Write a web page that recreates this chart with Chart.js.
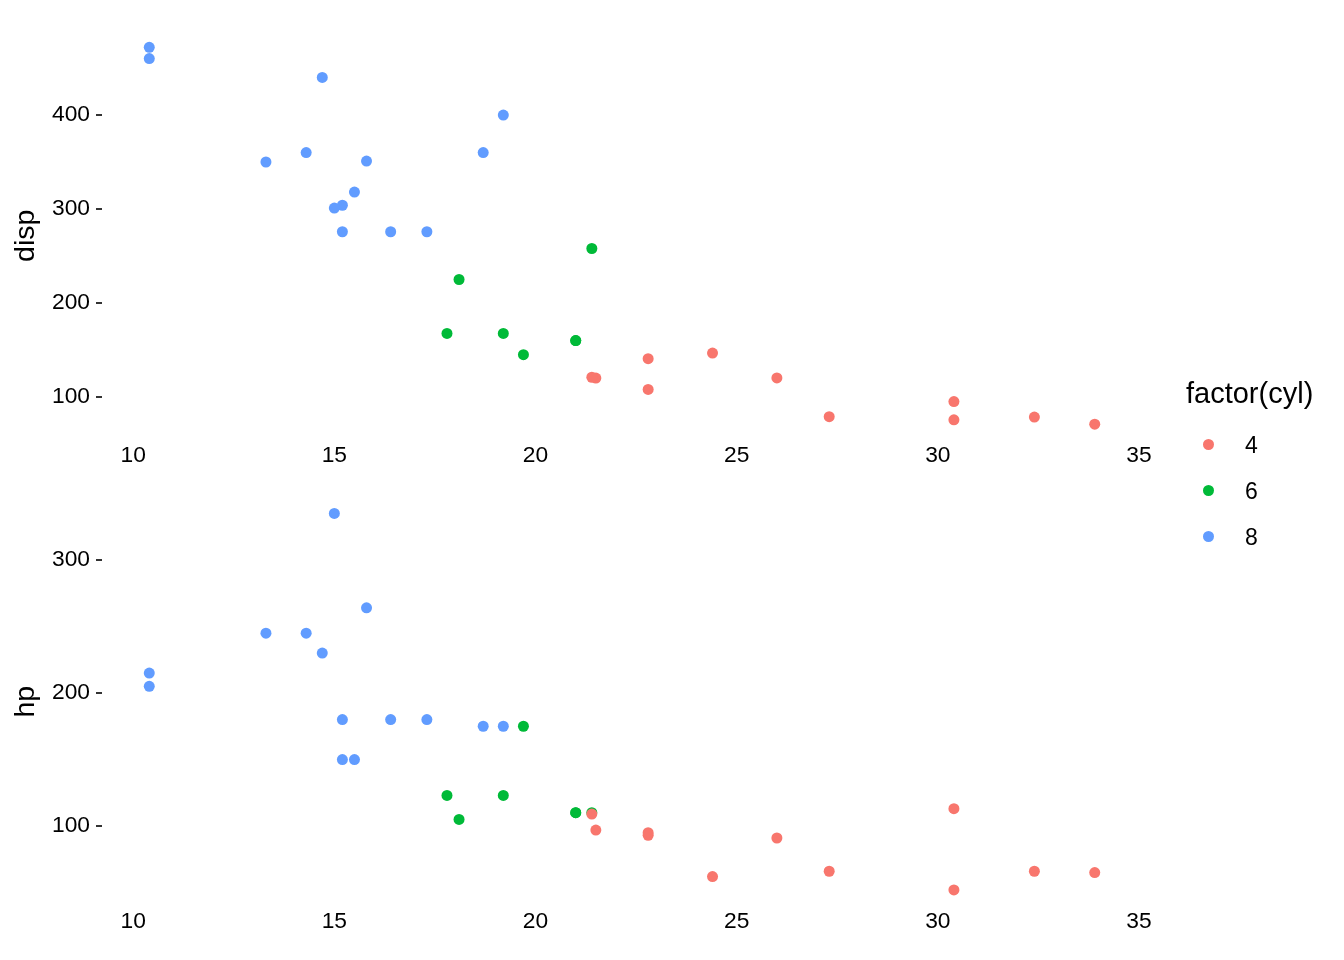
<!DOCTYPE html>
<html><head><meta charset="utf-8">
<script src="https://cdn.jsdelivr.net/npm/chart.js@4/dist/chart.umd.min.js"></script>
<style>
html,body{margin:0;padding:0;background:#fff;}
#wrap{position:relative;width:1344px;height:960px;font-family:"Liberation Sans",Arial,sans-serif;}
canvas{position:absolute;left:0;}
.lg{position:absolute;color:#000;white-space:nowrap;line-height:1;}
.dot{position:absolute;width:11px;height:11px;border-radius:50%;}
</style></head>
<body><div id="wrap">
<canvas id="c1" width="1344" height="480" style="top:0"></canvas>
<canvas id="c2" width="1344" height="480" style="top:480px"></canvas>
<div class="lg" style="left:1186px;top:379px;font-size:29px;">factor(cyl)</div>
<div class="dot" style="left:1203px;top:439px;background:#F8766D"></div>
<div class="lg" style="left:1245px;top:434px;font-size:23px;">4</div>
<div class="dot" style="left:1203px;top:485px;background:#00BA38"></div>
<div class="lg" style="left:1245px;top:480px;font-size:23px;">6</div>
<div class="dot" style="left:1203px;top:531px;background:#619CFF"></div>
<div class="lg" style="left:1245px;top:526px;font-size:23px;">8</div>
</div>
<script>
const mpg  = [21.0,21.0,22.8,21.4,18.7,18.1,14.3,24.4,22.8,19.2,17.8,16.4,17.3,15.2,10.4,10.4,14.7,32.4,30.4,33.9,21.5,15.5,15.2,13.3,19.2,27.3,26.0,30.4,15.8,19.7,15.0,21.4];
const cyl  = [6,6,4,6,8,6,8,4,4,6,6,8,8,8,8,8,8,4,4,4,4,8,8,8,8,4,4,4,8,6,8,4];
const disp = [160,160,108,258,360,225,360,146.7,140.8,167.6,167.6,275.8,275.8,275.8,472,460,440,78.7,75.7,71.1,120.1,318,304,350,400,79,120.3,95.1,351,145,301,121];
const hp   = [110,110,93,110,175,105,245,62,95,123,123,180,180,180,205,215,230,66,52,65,97,150,150,245,175,66,91,113,264,175,335,109];
const cylLevels = [4,6,8];
const cylColors = ['#F8766D','#00BA38','#619CFF'];
const xTicks = [10,15,20,25,30,35];
const dispTicks = [100,200,300,400];
const hpTicks = [100,200,300];

const FONT = '"Liberation Sans", Arial, sans-serif';

function expand(arr){const mn=Math.min(...arr),mx=Math.max(...arr),d=(mx-mn)*0.05;return [mn-d,mx+d];}

function makeChart(id, yvals, ylabel, yTicks, topPad, xAxisH){
  const [xmin,xmax]=expand(mpg);
  const [ymin,ymax]=expand(yvals);
  const datasets = cylLevels.map((c,k)=>({
    label:String(c),
    data: mpg.map((m,i)=>({x:m,y:yvals[i],c:cyl[i]})).filter(p=>p.c===c),
    backgroundColor:cylColors[k],
    borderWidth:0,
    pointRadius:5.5,
    pointHoverRadius:5.5
  }));
  return new Chart(document.getElementById(id),{
    type:'scatter',
    data:{datasets},
    options:{
      responsive:false,animation:false,
      layout:{padding:{top:topPad,right:202,left:0,bottom:0}},
      plugins:{legend:{display:false},tooltip:{enabled:false}},
      scales:{
        x:{type:'linear',min:xmin,max:xmax,
          afterBuildTicks:s=>{s.ticks=xTicks.map(v=>({value:v}));},
          afterFit:s=>{s.height=xAxisH;s.paddingLeft=0;s.paddingRight=0;},
          grid:{display:false,drawTicks:false},border:{display:false},
          ticks:{color:'#000',font:{family:FONT,size:22.8},padding:-1,maxRotation:0}
        },
        y:{type:'linear',min:ymin,max:ymax,
          afterBuildTicks:s=>{s.ticks=yTicks.map(v=>({value:v}));},
          afterFit:s=>{s.width=102;s.paddingTop=0;s.paddingBottom=0;},
          grid:{drawOnChartArea:false,drawTicks:true,tickLength:6,color:'#333',lineWidth:2},
          border:{display:false},
          ticks:{color:'#000',font:{family:FONT,size:22.8},padding:6},
          title:{display:true,text:ylabel,color:'#000',font:{family:FONT,size:28.5},padding:{top:9,bottom:0}}
        }
      }
    }
  });
}
makeChart('c1', disp, 'disp', dispTicks, 28.5, 37);
makeChart('c2', hp, 'hp', hpTicks, 14.6, 51.3);
</script>
</body></html>
